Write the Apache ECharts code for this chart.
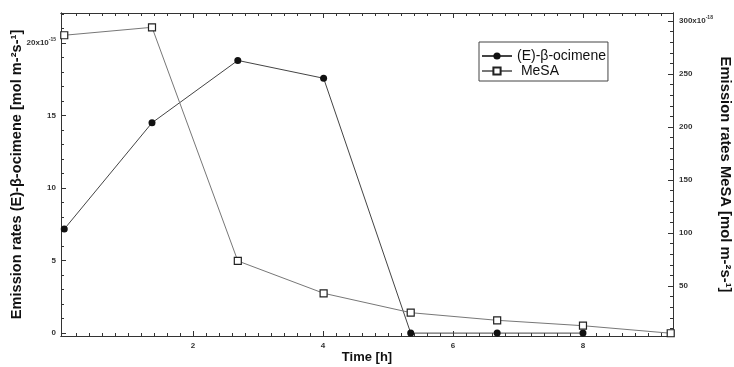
<!DOCTYPE html>
<html><head><meta charset="utf-8">
<script src="https://cdn.jsdelivr.net/npm/echarts@6/dist/echarts.min.js"></script>
<style>html,body{margin:0;padding:0;background:#fff}#c{width:734px;height:367px}</style>
</head><body><div id="c"></div>
<script>
// ---- data ----
const timeH = [0.02, 1.37, 2.69, 4.01, 5.35, 6.68, 8.0, 9.35];
const ocimene = [7.17, 14.5, 18.8, 17.57, 0, 0, 0];          // x10^-15 mol m-2 s-1
const mesa = [286.5, 294, 73.6, 43.1, 24.8, 17.6, 12.5, 5.4]; // x10^-18 mol m-2 s-1
const xTickLabels = [2, 4, 6, 8];
const leftTickLabels = [0, 5, 10, 15, 20];
const rightTickLabels = [50, 100, 150, 200, 250, 300];
const seriesNames = ['(E)-β-ocimene', 'MeSA'];

const FONT = '"Liberation Sans", Arial, sans-serif';
const xMin = -0.03, xMax = 9.385;
const lMin = -0.2, lMax = 22.07;
const rMin = 2.8, rMax = 307.5;

const xMinor = []; for (let i = 1; i <= 46; i++) xMinor.push(Math.round(i * 2) / 10);
const lMinor = []; for (let i = 0; i <= 22; i++) lMinor.push(i);
const rMinor = []; for (let i = 10; i <= 300; i += 10) rMinor.push(i);

const axisLineStyle = { color: '#333', width: 1 };
const lblBase = { fontFamily: FONT, fontSize: 8, fontWeight: 'bold', color: '#333' };
const rich = {
  b: { fontFamily: FONT, fontSize: 8, fontWeight: 'bold', color: '#333' },
  s: { fontFamily: FONT, fontSize: 5, fontWeight: 'bold', color: '#333', padding: [0, 0, 6, 0] }
};

function xAxisDef(pos, ticks, len, labels) {
  return {
    type: 'value', position: pos, min: xMin, max: xMax,
    axisLine: { show: true, onZero: false, lineStyle: axisLineStyle },
    axisTick: { show: true, inside: true, length: len, customValues: ticks, lineStyle: axisLineStyle },
    axisLabel: labels ? Object.assign({ show: true, margin: 6, customValues: ticks }, lblBase) : { show: false },
    splitLine: { show: false }
  };
}
function yAxisDef(pos, min, max, ticks, len, labels) {
  return {
    type: 'value', position: pos, min: min, max: max,
    axisLine: { show: true, onZero: false, lineStyle: axisLineStyle },
    axisTick: { show: true, inside: true, length: len, customValues: ticks, lineStyle: axisLineStyle },
    axisLabel: labels ? Object.assign({ show: true, margin: labels.margin, customValues: ticks, formatter: labels.fmt, rich: rich }, lblBase) : { show: false },
    splitLine: { show: false }
  };
}

const xa0 = xAxisDef('bottom', xTickLabels, 5, true);
xa0.name = 'Time [h]';
xa0.nameLocation = 'middle';
xa0.nameGap = 15;
xa0.nameMoveOverlap = false;
xa0.nameTextStyle = { fontFamily: FONT, fontSize: 13, fontWeight: 'bold', color: '#111' };

const ya0 = yAxisDef('left', lMin, lMax, leftTickLabels, 5, {
  margin: 5, fmt: v => v === 20 ? '{b|20x10}{s|-15}' : '{b|' + v + '}'
});
ya0.name = 'Emission rates (E)-β-ocimene [mol m-²s-¹]';
ya0.nameLocation = 'middle';
ya0.nameRotate = 90;
ya0.nameGap = 37;
ya0.nameMoveOverlap = false;
ya0.nameTextStyle = { fontFamily: FONT, fontSize: 14.6, fontWeight: 'bold', color: '#111' };

const ya2 = yAxisDef('right', rMin, rMax, rightTickLabels, 5, {
  margin: 6, fmt: v => v === 300 ? '{b|300x10}{s|-18}' : '{b|' + v + '}'
});
ya2.name = 'Emission rates MeSA [mol m-²s-¹]';
ya2.nameLocation = 'middle';
ya2.nameRotate = -90;
ya2.nameGap = 45;
ya2.nameMoveOverlap = false;
ya2.nameTextStyle = { fontFamily: FONT, fontSize: 14.8, fontWeight: 'bold', color: '#111' };

const option = {
  animation: false,
  backgroundColor: '#fff',
  grid: { left: 61, right: 61, top: 13, bottom: 31, containLabel: false, outerBoundsMode: 'none' },
  xAxis: [
    xa0,
    xAxisDef('bottom', xMinor, 3, false),
    xAxisDef('top', xTickLabels, 5, false),
    xAxisDef('top', xMinor, 3, false)
  ],
  yAxis: [
    ya0,
    yAxisDef('left', lMin, lMax, lMinor, 3, null),
    ya2,
    yAxisDef('right', rMin, rMax, rMinor, 3, null)
  ],
  legend: {
    orient: 'vertical', left: 479, top: 42,
    padding: [7, 2, 3, 2], itemGap: 1, itemWidth: 30, itemHeight: 9,
    borderColor: '#444', borderWidth: 1,
    textStyle: { fontFamily: FONT, fontSize: 14, color: '#111' },
    formatter: n => n === 'MeSA' ? ' MeSA' : n,
    data: seriesNames
  },
  series: [
    {
      name: seriesNames[0], type: 'line', xAxisIndex: 0, yAxisIndex: 0,
      data: ocimene.map((v, i) => [timeH[i], v]),
      symbol: 'circle', symbolSize: 7,
      itemStyle: { color: '#111' },
      lineStyle: { color: '#444', width: 1 },
      z: 3
    },
    {
      name: seriesNames[1], type: 'line', xAxisIndex: 0, yAxisIndex: 2,
      data: mesa.map((v, i) => [timeH[i], v]),
      symbol: 'rect', symbolSize: 7,
      itemStyle: { color: '#fff', borderColor: '#222', borderWidth: 1.2 },
      lineStyle: { color: '#777', width: 1 },
      z: 4
    }
  ]
};
const chart = echarts.init(document.getElementById('c'), null, { renderer: 'canvas' });
chart.setOption(option);
</script>
</body></html>
